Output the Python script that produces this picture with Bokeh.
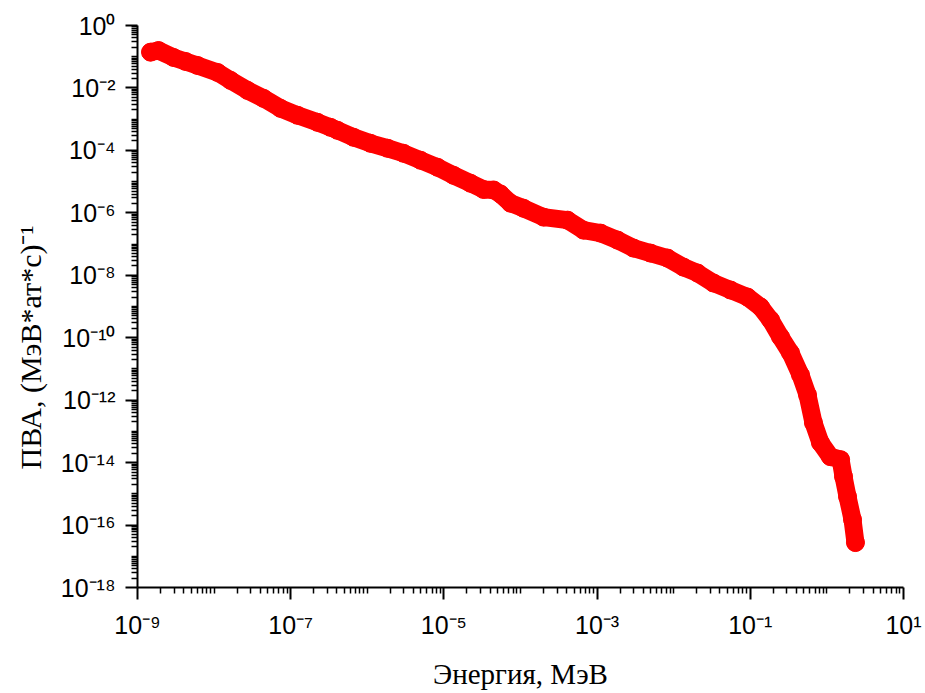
from bokeh.plotting import figure
from bokeh.models import FixedTicker, CustomJSTickFormatter, ColumnDataSource, Title
from bokeh.embed import file_html
from bokeh.resources import INLINE

# ---- data (energy in MeV, flux in (MeV*at*s)^-1) ----
energy = [1.48e-9, 1.88e-9, 2.95e-9, 4.24e-9, 6.07e-9, 1.11e-8, 1.64e-8, 2.73e-8,
          4.42e-8, 7.36e-8, 1.23e-7, 2.24e-7, 3.31e-7, 4.08e-7, 6.61e-7, 1.10e-6,
          1.84e-6, 2.97e-6, 4.96e-6, 8.24e-6, 1.33e-5, 2.22e-5, 3.29e-5, 4.45e-5,
          5.48e-5, 7.40e-5, 1.09e-4, 2.00e-4, 4.11e-4, 6.64e-4, 1.11e-3, 1.85e-3,
          2.99e-3, 4.98e-3, 8.30e-3, 1.34e-2, 2.05e-2, 3.31e-2, 5.52e-2, 9.18e-2,
          0.136, 0.184, 0.248, 0.335, 0.452, 0.558, 0.668, 0.824, 1.11, 1.51,
          1.65, 1.86, 2.16, 2.36]
flux = [1.40e-1, 1.58e-1, 9.48e-2, 7.07e-2, 5.26e-2, 3.14e-2, 1.75e-2, 8.36e-3,
        4.64e-3, 2.22e-3, 1.33e-3, 7.93e-4, 5.48e-4, 4.40e-4, 2.63e-4, 1.69e-4,
        1.17e-4, 8.09e-5, 4.83e-5, 2.89e-5, 1.60e-5, 8.89e-6, 5.60e-6, 5.40e-6,
        4.00e-6, 2.04e-6, 1.41e-6, 7.28e-7, 5.83e-7, 2.79e-7, 2.24e-7, 1.34e-7,
        7.43e-8, 5.14e-8, 3.56e-8, 1.83e-8, 1.18e-8, 5.65e-9, 3.37e-9, 2.01e-9,
        9.66e-10, 3.71e-10, 1.06e-10, 3.27e-11, 6.47e-12, 1.48e-12, 1.89e-13, 4.34e-14,
        1.55e-14, 1.24e-14, 3.55e-15, 8.13e-16, 1.50e-16, 2.75e-17]

x_label_ticks = [1e-9, 1e-7, 1e-5, 1e-3, 1e-1, 1e1]
y_label_ticks = [1e0, 1e-2, 1e-4, 1e-6, 1e-8, 1e-10, 1e-12, 1e-14, 1e-16, 1e-18]
x_decades = list(range(-9, 1))
y_decades = list(range(-18, 0))

x_title = "Энергия, МэВ"
y_title = "ПВА, (МэВ*ат*с)\u207b\u00b9"

x_minor = [m * 10.0 ** d for d in x_decades for m in range(1, 10) if not (m == 1 and d % 2 != 0)]
y_minor = [m * 10.0 ** d for d in y_decades for m in range(1, 10) if not (m == 1 and d % 2 == 0)]

src = ColumnDataSource(dict(x=energy, y=flux))

W, H = 922, 692
BL, BT, BR = 137, 25, 19
BB = H - 588

p = figure(width=W, height=H, x_axis_type="log", y_axis_type="log",
           x_range=(1e-9, 1e1), y_range=(1e-18, 1e0),
           output_backend="svg", toolbar_location=None,
           min_border_left=BL, min_border_right=BR, min_border_top=BT, min_border_bottom=BB)

p.line("x", "y", source=src, line_color="#ff0000", line_width=18,
       line_join="round", line_cap="round")
p.scatter("x", "y", source=src, size=18, marker="circle",
          fill_color="#ff0000", line_color="#ff0000")

p.outline_line_color = None
p.xgrid.visible = False
p.ygrid.visible = False
p.background_fill_color = "white"
p.border_fill_color = "white"

fmt_code = """
const sup = {'-':'\u207b','0':'\u2070','1':'\u00b9','2':'\u00b2','3':'\u00b3','4':'\u2074',
             '5':'\u2075','6':'\u2076','7':'\u2077','8':'\u2078','9':'\u2079'};
const e = Math.round(Math.log10(tick));
return '10' + String(e).split('').map(c => sup[c]).join('');
"""

p.xaxis.ticker = FixedTicker(ticks=x_label_ticks, minor_ticks=x_minor)
p.yaxis.ticker = FixedTicker(ticks=y_label_ticks, minor_ticks=y_minor)
for ax in (p.xaxis[0], p.yaxis[0]):
    ax.formatter = CustomJSTickFormatter(code=fmt_code)
    ax.axis_line_width = 2
    ax.axis_line_color = "black"
    ax.major_tick_line_width = 2
    ax.major_tick_line_color = "black"
    ax.major_tick_out = 12
    ax.major_tick_in = 0
    ax.minor_tick_line_width = 1.5
    ax.minor_tick_line_color = "black"
    ax.minor_tick_out = 6
    ax.minor_tick_in = 0
    ax.major_label_text_font = "Liberation Sans"
    ax.major_label_text_font_size = "25px"
    ax.major_label_text_color = "black"
p.xaxis.major_label_standoff = 11
p.yaxis.major_label_standoff = 10

p.xaxis.axis_label = x_title
p.xaxis.axis_label_standoff = 16
p.xaxis.axis_label_text_font = "Liberation Serif"
p.xaxis.axis_label_text_font_size = "29px"
p.xaxis.axis_label_text_font_style = "normal"
p.xaxis.axis_label_text_color = "black"

p.add_layout(Title(text=y_title, align="left", offset=118, standoff=22,
                   text_font="Liberation Serif", text_font_size="30px",
                   text_font_style="normal", text_color="black"), "left")

open("out.html", "w").write(file_html(p, INLINE))
